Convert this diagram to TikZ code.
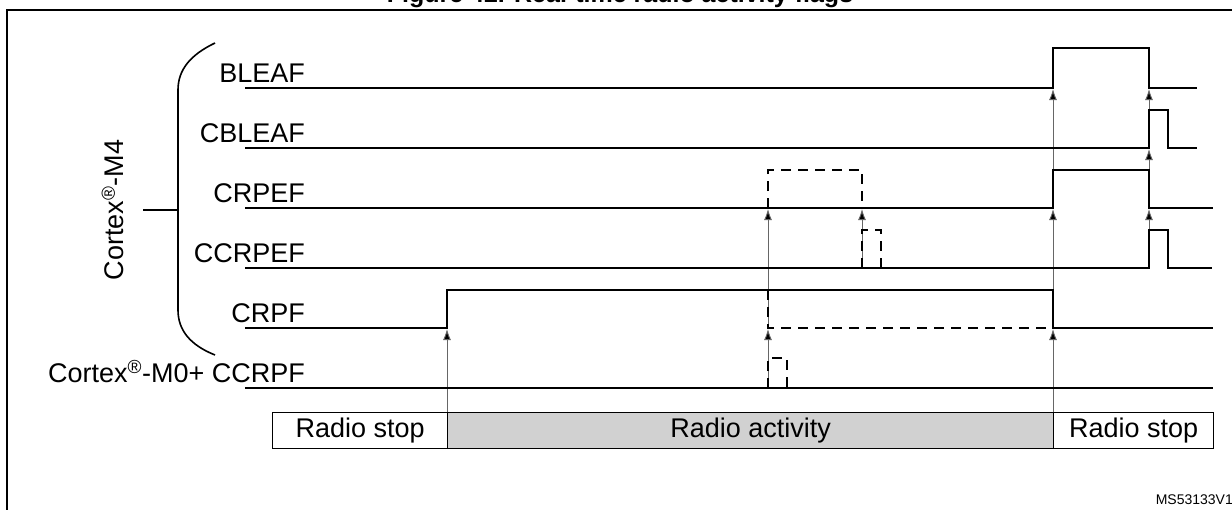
\documentclass[tikz,border=0pt]{standalone}
\usepackage{fontspec}
\setmainfont{Liberation Sans}
\usetikzlibrary{arrows.meta}
\tikzstyle{sig}=[line width = 2.2pt]
\tikzstyle{dsig}=[line width = 2.2pt, dash pattern = on 10pt off 7pt]
\tikzstyle{tip}=[-{Latex[length=11pt,width=8pt,fill=black]}, draw = black!60, line width = 0.9pt]
\tikzstyle{lbl}=[anchor = south east, inner sep = 1pt, font = \fontsize{27}{30}\selectfont]
\tikzstyle{phase}=[draw, line width = 1.3pt, minimum height = 36pt, inner sep = 0pt, font = \fontsize{27}{30}\selectfont]

\begin{document}
\begin{tikzpicture}[x = 1pt, y = -1pt]
\useasboundingbox (0,0) rectangle (1232,509);
\draw[line width = 2pt] (7,10) rectangle (1240,520);
\node[font = \bfseries\fontsize{25}{28}\selectfont] (title) at (620,-4) {Figure 42. Real-time radio activity flags};
\node[anchor = south east, inner sep = 1pt, font = \fontsize{14}{16}\selectfont] (ref) at (1234,506) {MS53133V1};
%
% brace and group label
\draw[line width = 1.6pt] (215,43) .. controls (190,55) and (178,70) .. (178,90) -- (178,310) .. controls (178,330) and (190,345) .. (215,355);
\draw[line width = 1.6pt] (143,210) -- (178,210);
\node[rotate = 90, font = \fontsize{27}{30}\selectfont] (m4) at (113,210) {Cortex\textsuperscript{\textregistered}-M4};
%
% signal names
\node[lbl] (nBLEAF) at (306,84) {BLEAF};
\node[lbl] (nCBLEAF) at (306,144) {CBLEAF};
\node[lbl] (nCRPEF) at (306,204) {CRPEF};
\node[lbl] (nCCRPEF) at (306,264) {CCRPEF};
\node[lbl] (nCRPF) at (306,324) {CRPF};
\node[lbl] (nCCRPF) at (306,384) {Cortex\textsuperscript{\textregistered}-M0+ CCRPF};
%
% phases
\node[phase, minimum width = 175pt, anchor = north west] (stopA) at (272,412) {Radio stop};
\node[phase, minimum width = 606pt, anchor = north west, fill = black!18] (active) at (447,412) {Radio activity};
\node[phase, minimum width = 160pt, anchor = north west] (stopB) at (1053,412) {Radio stop};
%
% triggers
\draw[tip] (447,412) -- (447,329);
\draw[tip] (768,388) -- (768,329);
\draw[tip] (768,329) -- (768,209);
\draw[tip] (862,268) -- (862,209);
\draw[tip] (1053,412) -- (1053,329);
\draw[tip] (1053,329) -- (1053,209);
\draw[tip] (1053,209) -- (1053,89);
\draw[tip] (1149,268) -- (1149,209);
\draw[tip] (1149,209) -- (1149,149);
\draw[tip] (1149,149) -- (1149,89);
%
% waveforms
\draw[sig] (245,88) -- (1053,88) -- (1053,48) -- (1149,48) -- (1149,88) -- (1197,88);
\draw[sig] (245,148) -- (1149,148) -- (1149,110) -- (1168,110) -- (1168,148) -- (1197,148);
\draw[sig] (245,208) -- (1053,208) -- (1053,170) -- (1149,170) -- (1149,208) -- (1213,208);
\draw[dsig] (768,208) -- (768,170) -- (862,170) -- (862,208);
\draw[sig] (245,268) -- (1149,268) -- (1149,230) -- (1168,230) -- (1168,268) -- (1212,268);
\draw[dsig] (862,268) -- (862,230) -- (881,230) -- (881,268);
\draw[sig] (245,328) -- (447,328) -- (447,290) -- (1053,290) -- (1053,328) -- (1213,328);
\draw[dsig] (768,290) -- (768,328) -- (1053,328);
\draw[sig] (245,388) -- (1213,388);
\draw[dsig] (768,388) -- (768,358) -- (787,358) -- (787,388);
%
\end{tikzpicture}
\end{document}
